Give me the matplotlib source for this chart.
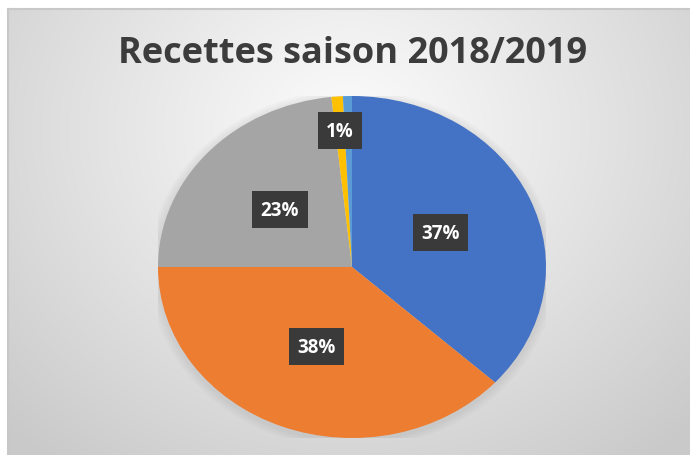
import numpy as np
import matplotlib
matplotlib.use("Agg")
import matplotlib.pyplot as plt
from matplotlib.patches import Ellipse

title = "Recettes saison 2018/2019"
categories = ["A", "B", "C", "D", "E"]
values = [36.8, 38.2, 23.3, 0.95, 0.75]
colors = ["#4472C4", "#ED7D31", "#A5A5A5", "#FFC000", "#5B9BD5"]
label_dist = [0.5, 0.5, 0.5, 0.8, None]

W, H = 690, 456
fig = plt.figure(figsize=(W / 100, H / 100), dpi=100)
fig.patch.set_facecolor("white")

# background chart area with radial gradient
bg = fig.add_axes([8 / W, 0, (W - 8) / W, (H - 10) / H])
yy, xx = np.mgrid[0:446, 0:682]
cx, cy = 340, 120
d = np.sqrt(((xx - cx) / 1.15) ** 2 + ((yy - cy) / 1.0) ** 2)
t = np.clip(d / 420, 0, 1) ** 1.1
c0, c1 = 0.985, 0.79
img = c0 + (c1 - c0) * t
bg.imshow(np.dstack([img, img, img]), aspect="auto", extent=[0, 1, 0, 1], origin="upper")
bg.set_xlim(0, 1); bg.set_ylim(0, 1)
for s in ["right", "bottom"]:
    bg.spines[s].set_visible(False)
for s in ["top", "left"]:
    bg.spines[s].set_color("#c8c8c8")
    bg.spines[s].set_linewidth(1.5)
bg.set_xticks([]); bg.set_yticks([])

fig.text(353 / W, 1 - 54 / H, title, ha="center", va="center",
         fontsize=26, fontweight="bold", color="#3c3c3c", family="Open Sans")

# pie
pcx, pcy, rx, ry = 352, 268, 194, 171
ax = fig.add_axes([(pcx - rx) / W, (H - pcy - ry) / H, 2 * rx / W, 2 * ry / H])
ax.patch.set_visible(False)
# soft shadow
for i, a in enumerate([0.03, 0.03, 0.03, 0.03]):
    s = 1.0 + 0.012 * (i + 1)
    ax.add_patch(Ellipse((0.0, -0.012), 2 * s, 2 * s, facecolor="#606060", alpha=a, edgecolor="none", zorder=0))
wedges, _ = ax.pie(values, colors=colors, startangle=90, counterclock=False,
                   wedgeprops=dict(linewidth=0))
ax.set_aspect("auto")
ax.set_xlim(-1, 1); ax.set_ylim(-1, 1)

total = sum(values)
cum = 0
for v, dist in zip(values, label_dist):
    mid = cum + v / 2
    cum += v
    if dist is None:
        continue
    ang = np.deg2rad(90 - 360 * mid / total)
    ax.text(dist * np.cos(ang), dist * np.sin(ang), f"{v / total * 100:.0f}%",
            ha="center", va="center", fontsize=13.5, fontweight="bold", color="white",
            family="Open Sans",
            bbox=dict(boxstyle="square,pad=0.45", facecolor="#3a3a3a", edgecolor="none"))

fig.savefig("out.png", dpi=100)
